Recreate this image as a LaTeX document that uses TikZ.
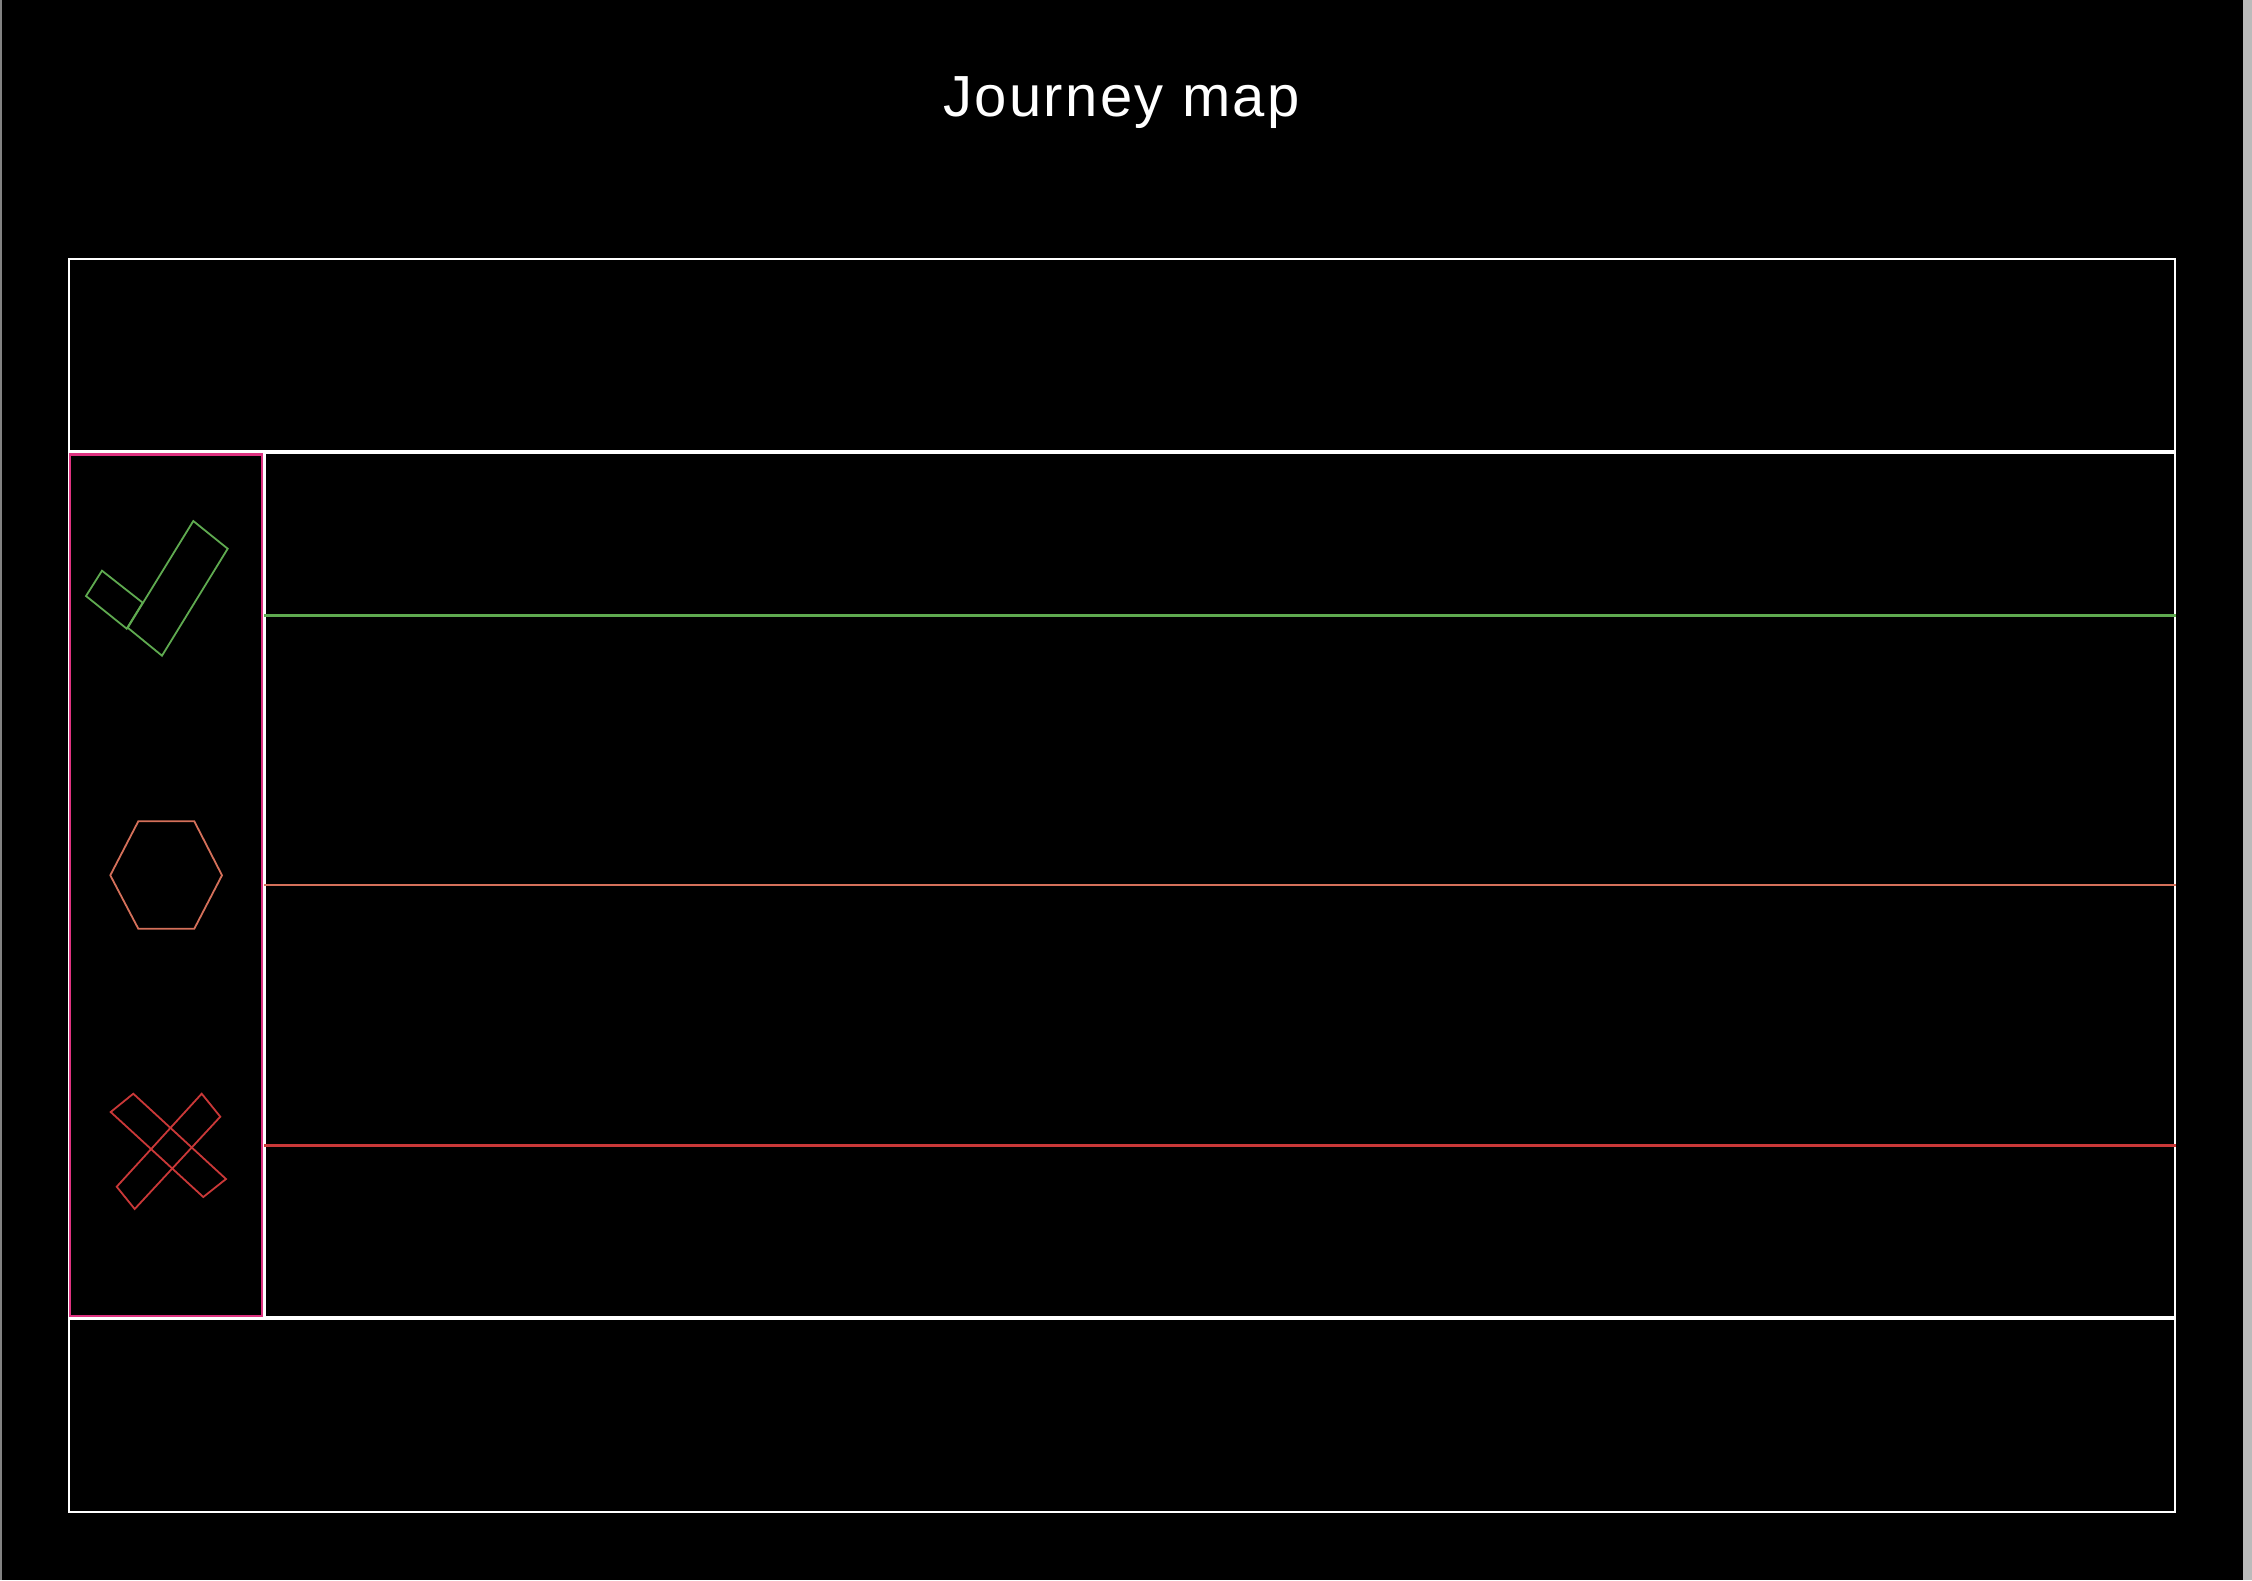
\documentclass[tikz,border=0pt]{standalone}
\usepackage{fontspec}
\setmainfont{Liberation Sans}
\newfontfamily\titlefont[LetterSpace=4]{Liberation Sans}
\definecolor{pinkc}{RGB}{222,50,128}
\definecolor{greenc}{RGB}{95,170,80}
\definecolor{orangec}{RGB}{212,112,90}
\definecolor{redc}{RGB}{202,56,56}
\definecolor{edgegray}{RGB}{187,187,187}
\definecolor{leftgray}{RGB}{130,130,130}
\begin{document}
\begin{tikzpicture}[x=1pt,y=-1pt,
  whitebox/.style={draw=white,line width=2.4pt},
  lane/.style={line width=2.2pt},
  icon/.style={line width=1.8pt,line join=miter}]
\fill[black] (0,0) rectangle (2252,1580);
\useasboundingbox (0,0) rectangle (2252,1580);
\fill[leftgray] (0,0) rectangle (1.5,1580);
\fill[edgegray] (2243,0) rectangle (2252,1580);
% title
\node[anchor=base,text=white,inner sep=0pt,font=\titlefont\fontsize{58}{60}\selectfont] (title) at (1121.5,116.7) {Journey map};
% boxes
\draw[whitebox] (69,259) rectangle (2175,451);
\draw[whitebox] (69,453) rectangle (2175,1317);
\draw[whitebox] (69,1319) rectangle (2175,1512);
\coordinate (sepTop) at (264.5,453);
\coordinate (sepBot) at (264.5,1317);
\draw[whitebox] (sepTop) -- (sepBot);
% lanes
\coordinate (gl) at (264,615.5); \coordinate (gr) at (2176,615.5);
\coordinate (ol) at (264,884.7); \coordinate (or) at (2176,884.7);
\coordinate (rl) at (264,1145.5); \coordinate (rr) at (2176,1145.5);
\draw[lane,greenc] (gl) -- (gr);
\draw[lane,orangec] (ol) -- (or);
\draw[lane,redc] (rl) -- (rr);
% pink column
\draw[pinkc,line width=2.2pt] (70,454.5) rectangle (262,1316);
% check mark
\draw[icon,greenc] (86,596) -- (102,570.7) -- (142.7,602.7) -- (126.7,628.7) -- cycle;
\draw[icon,greenc] (193.3,521) -- (227.7,548.7) -- (162,655.7) -- (127.7,627.7) -- cycle;
% hexagon
\draw[icon,orangec] (138.3,821.3) -- (194.3,821.3) -- (222,875.3) -- (194.3,928.7) -- (138.3,928.7) -- (110.3,875.3) -- cycle;
% cross
\draw[icon,redc] (110.7,1112) -- (133.3,1093.7) -- (226,1179) -- (203.3,1197) -- cycle;
\draw[icon,redc] (201.7,1093.7) -- (220.3,1116.7) -- (134.7,1209) -- (116.7,1186.7) -- cycle;
\end{tikzpicture}
\end{document}
